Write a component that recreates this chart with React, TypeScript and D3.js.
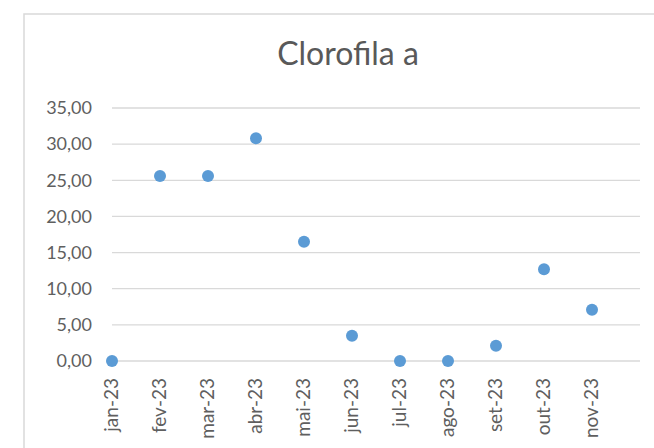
import React from "react";
import { scaleLinear, range } from "d3";

// meses (eixo X)
const meses = ["jan-23", "fev-23", "mar-23", "abr-23", "mai-23", "jun-23", "jul-23", "ago-23", "set-23", "out-23", "nov-23"];
// valores de clorofila a
const clorofila = [0, 25.6, 25.6, 30.8, 16.5, 3.5, 0, 0, 2.1, 12.7, 7.1];
// ticks do eixo Y
const yTicks = [0, 5, 10, 15, 20, 25, 30, 35];

const fmt = (v: number) => v.toFixed(2).replace(".", ",");

export default function App() {
  const width = 654;
  const height = 448;
  const margin = { top: 108, right: 14, bottom: 87, left: 112 };

  // eixo de datas vai de jan a dez (12 posições)
  const x = scaleLinear()
    .domain([0, 11])
    .range([margin.left, width - margin.right]);

  const y = scaleLinear()
    .domain([0, 35])
    .range([height - margin.bottom, margin.top]);

  const font = "Lato, 'Open Sans', sans-serif";

  return (
    <svg
      width={width}
      height={height}
      style={{ position: "absolute", left: 0, top: 0, background: "#fff" }}
    >
      {/* borda da área do gráfico */}
      <rect x={24} y={14} width={700} height={500} fill="#fff" stroke="#d9d9d9" strokeWidth={1.5} />

      {/* título */}
      <text
        x={348}
        y={65}
        textAnchor="middle"
        fontFamily={font}
        fontSize={32}
        fill="#595959"
      >
        Clorofila a
      </text>

      {/* grade e rótulos Y */}
      {yTicks.map((t) => (
        <g key={t}>
          <line
            x1={margin.left}
            x2={width - margin.right}
            y1={y(t)}
            y2={y(t)}
            stroke="#d9d9d9"
            strokeWidth={1.3}
          />
          <text
            x={92}
            y={y(t)}
            dy="0.35em"
            textAnchor="end"
            fontFamily={font}
            fontSize={18}
            fill="#5f5f5f"
          >
            {fmt(t)}
          </text>
        </g>
      ))}

      {/* rótulos X */}
      {range(meses.length).map((i) => (
        <text
          key={meses[i]}
          transform={`translate(${x(i) + 6}, ${y(0) + 17}) rotate(-90)`}
          textAnchor="end"
          fontFamily={font}
          fontSize={19}
          fill="#5f5f5f"
        >
          {meses[i]}
        </text>
      ))}

      {/* pontos */}
      {clorofila.map((v, i) => (
        <circle key={i} cx={x(i)} cy={y(v)} r={6} fill="#5b9bd5">
          <title>{`${meses[i]}: ${fmt(v)}`}</title>
        </circle>
      ))}
    </svg>
  );
}
